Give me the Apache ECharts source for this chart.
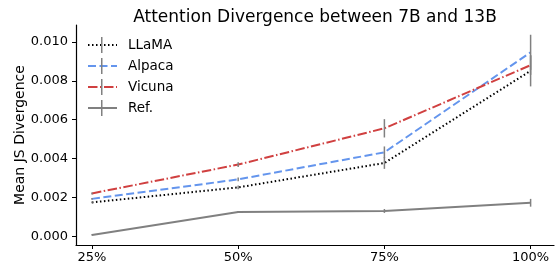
<!DOCTYPE html>
<html>
<head>
<meta charset="utf-8">
<script src="https://cdn.jsdelivr.net/npm/echarts@6/dist/echarts.min.js"></script>
<style>
html, body { margin: 0; padding: 0; background: #fff; }
#chart { width: 556px; height: 264px; }
</style>
</head>
<body>
<div id="chart"></div>
<script>
// positions on the x axis and their labels
var xPos = [25, 50, 75, 100];
var xLabels = ['25%', '50%', '75%', '100%'];
var yTicks = [0, 0.002, 0.004, 0.006, 0.008, 0.010];

var seriesNames = ['LLaMA', 'Alpaca', 'Vicuna', 'Ref.'];
var llama = [0.00176, 0.00253, 0.00378, 0.00851];
var alpaca = [0.00194, 0.00294, 0.00433, 0.00946];
var vicuna = [0.00222, 0.00370, 0.00556, 0.00880];
var ref = [0.00009, 0.00127, 0.00132, 0.00174];

// error (half length of bar)
var llamaErr = [0.00005, 0.0001, 0.0003, 0.0008];
var alpacaErr = [0.00005, 0.0001, 0.0003, 0.0009];
var vicunaErr = [0.00005, 0.00012, 0.00047, 0.0005];
var refErr = [0.00003, 0.00005, 0.0001, 0.0002];

var font = 'DejaVu Sans';
var styles = [
    { color: '#000000', type: [1.5, 2.5] },
    { color: '#6495ED', type: [8, 3.5] },
    { color: '#D04040', type: [9.5, 2.5, 1.5, 2.5] },
    { color: '#808080', type: 'solid' }
];
var values = [llama, alpaca, vicuna, ref];
var errs = [llamaErr, alpacaErr, vicunaErr, refErr];

function pairs(vals) {
    return xPos.map(function (x, i) { return [x, vals[i]]; });
}
function errData(vals, e) {
    return xPos.map(function (x, i) { return [x, vals[i] - e[i], vals[i] + e[i]]; });
}

var series = [];
seriesNames.forEach(function (name, k) {
    series.push({
        name: name,
        type: 'line',
        data: pairs(values[k]),
        symbol: 'none',
        lineStyle: { color: styles[k].color, width: 2, type: styles[k].type },
        itemStyle: { color: styles[k].color },
        z: 2
    });
});
seriesNames.forEach(function (name, k) {
    series.push({
        type: 'custom',
        data: errData(values[k], errs[k]),
        z: 3,
        silent: true,
        renderItem: function (params, api) {
            var p1 = api.coord([api.value(0), api.value(1)]);
            var p2 = api.coord([api.value(0), api.value(2)]);
            return {
                type: 'line',
                shape: { x1: p1[0], y1: p1[1], x2: p2[0], y2: p2[1] },
                style: { stroke: '#808080', lineWidth: 1.5 }
            };
        }
    });
});

var myChart = echarts.init(document.getElementById('chart'));
var option = {
    animation: false,
    title: {
        text: 'Attention Divergence between 7B and 13B',
        left: 310,
        textAlign: 'center',
        top: 4,
        textStyle: { fontFamily: font, fontSize: 17, fontWeight: 'normal', color: '#000' }
    },
    legend: [{
        // line samples, symbol hidden
        orient: 'vertical',
        left: 87,
        top: 37,
        padding: 0,
        itemWidth: 29,
        itemHeight: 16,
        itemGap: 5,
        data: seriesNames,
        itemStyle: { opacity: 0 },
        textStyle: { fontFamily: font, fontSize: 13.5, color: '#000', lineHeight: 16, padding: [0, 0, 0, 6] }
    }, {
        // gray error tick in the middle of each sample
        orient: 'vertical',
        left: 101,
        top: 37,
        padding: 0,
        itemWidth: 1.5,
        itemHeight: 16,
        itemGap: 5,
        icon: 'rect',
        data: seriesNames,
        itemStyle: { color: '#808080' },
        textStyle: { fontFamily: font, fontSize: 13.5, color: 'rgba(0,0,0,0)', lineHeight: 16 }
    }],
    grid: { left: 76, right: 2, top: 25, bottom: 19 },
    xAxis: {
        type: 'value',
        min: 22.27,
        max: 104,
        splitLine: { show: false },
        axisLine: { onZero: false, lineStyle: { color: '#000', width: 1.2 } },
        axisTick: { customValues: xPos, length: 4, lineStyle: { color: '#000' } },
        axisLabel: {
            customValues: xPos,
            margin: 6,
            fontFamily: font, fontSize: 13, color: '#000',
            formatter: function (v) { return xLabels[xPos.indexOf(v)]; }
        }
    },
    yAxis: {
        type: 'value',
        min: -0.000426,
        max: 0.01086,
        name: 'Mean JS Divergence',
        nameLocation: 'middle',
        nameGap: 49,
        nameMoveOverlap: false,
        nameTextStyle: { fontFamily: font, fontSize: 14, color: '#000' },
        splitLine: { show: false },
        axisLine: { show: true, onZero: false, lineStyle: { color: '#000', width: 1.2 } },
        axisTick: { show: true, customValues: yTicks, length: 4, lineStyle: { color: '#000' } },
        axisLabel: {
            customValues: yTicks,
            margin: 8,
            fontFamily: font, fontSize: 13, color: '#000',
            formatter: function (v) { return v.toFixed(3); }
        }
    },
    series: series
};
myChart.setOption(option);
window.addEventListener('resize', function () { myChart.resize(); });
</script>
</body>
</html>
